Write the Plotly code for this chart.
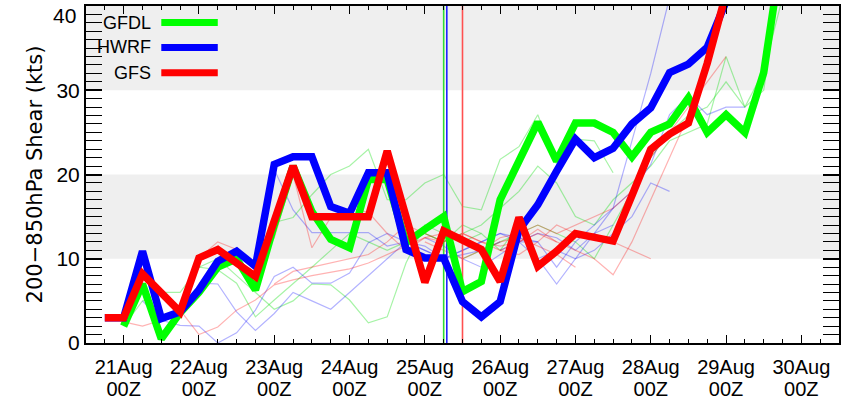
import pandas as pd
import plotly.graph_objects as go

# 6-hourly forecast times (2011-08-20 18Z onward)
T0 = pd.Timestamp("2011-08-20 18:00")
STEP = pd.Timedelta(hours=6)

def times(start, n):
    return [T0 + STEP * (start + k) for k in range(n)]

# Latest forecasts (start index, values in kts)
gfs_start = 0
gfs_shear = [3.0, 3.0, 8.2, 6.0, 3.7, 10.1, 11.1, 9.5, 7.9, 14.5, 21.0, 15.0, 15.0, 15.0,
             15.0, 22.8, 15.0, 7.2, 13.3, 12.3, 11.1, 7.3, 14.9, 9.1, 10.9, 13.0, 12.5,
             12.1, 17.5, 23.0, 24.8, 26.1, 33.2, 41.5]
hwrf_start = 0
hwrf_shear = [3.0, 3.0, 10.9, 2.9, 3.7, 6.3, 9.7, 10.9, 9.1, 21.2, 22.1, 22.1, 16.2, 15.4,
              20.2, 20.2, 11.1, 10.1, 10.1, 4.9, 3.1, 4.9, 13.4, 16.4, 20.4, 24.2, 22.0,
              23.1, 26.0, 27.9, 32.1, 33.1, 35.1, 40.5, 46.0]
gfdl_start = 1
gfdl_shear = [2.0, 7.0, 0.5, 3.6, 6.0, 9.0, 10.0, 6.3, 14.0, 21.0, 15.6, 12.3, 11.3, 19.4,
              19.4, 11.9, 13.5, 15.0, 6.1, 7.3, 17.0, 21.4, 26.2, 21.6, 26.1, 26.1, 25.0,
              22.1, 25.0, 26.0, 29.1, 25.0, 27.1, 25.0, 32.1, 47.0]

# Earlier forecast cycles (start index, values)
gfs_old = [
    (1, [2.5, 2.0, 2.7, 3.9, 1.0, 1.9, 3.9, 5.1, 6.9, 7.5, 8.0, 8.4, 8.8, 9.5, 10.5, 11.5,
         12.5, 13.0, 12.0, 11.0]),
    (5, [10.1, 12.0, 11.1, 9.3, 12.5, 20.0, 11.3, 14.9, 16.0, 15.5, 13.0, 11.0, 12.5, 12.0,
         13.0, 12.0, 11.5, 12.0, 13.5, 12.0]),
    (9, [7.0, 8.5, 9.0, 9.5, 10.0, 10.5, 12.0, 14.0, 13.0, 12.0, 13.0, 12.0, 11.0, 10.5,
         12.0, 14.0, 13.0, 13.0, 12.0, 11.0, 10.0]),
    (17, [12.0, 11.0, 10.0, 11.0, 12.5, 13.0, 14.0, 13.0, 14.0, 15.0, 16.0, 18.0, 22.0,
          25.0, 28.0, 31.0, 34.0]),
    (20, [11.0, 12.0, 12.5, 11.5, 10.5, 9.0]),
    (21, [11.0, 12.0, 13.0, 12.0, 11.0, 10.0, 8.1, 12.0, 17.0, 22.0, 27.0, 33.0, 40.0, 47.0]),
]
hwrf_old = [
    (2, [5.0, 2.7, 2.1, 2.0, 0.0, 1.2, 3.9, 7.9, 9.0, 7.1, 7.1, 8.3, 11.9, 13.0, 12.0, 11.0,
         10.0, 10.5, 11.0, 12.0]),
    (5, [7.1, 7.0, 3.7, 1.5, 3.5, 6.0, 5.0, 4.0, 6.0, 8.0, 10.0, 12.0, 11.5, 10.0, 11.0,
         12.0, 13.0, 12.5, 12.0]),
    (9, [20.6, 15.8, 13.1, 13.1, 13.1, 13.1, 11.5, 12.0, 11.0, 10.0, 11.0, 12.0, 13.0, 12.0,
         13.0, 12.5, 11.0, 13.0, 14.0]),
    (17, [12.5, 11.5, 10.0, 9.0, 10.5, 12.0, 10.0, 7.0, 10.0, 11.0, 13.0, 15.0, 19.0, 18.0]),
    (21, [11.0, 12.0, 12.0, 9.0, 12.0, 14.0, 16.0, 18.0, 21.2, 27.1, 29.3, 27.1, 28.0, 28.0]),
    (23, [10.0, 11.0, 10.0, 13.0, 16.0, 24.0, 32.0, 41.0, 50.0]),
]
gfdl_old = [
    (1, [2.0, 5.0, 6.0, 6.0, 9.0, 8.7, 7.1, 3.1, 5.1, 7.0, 9.0, 11.0, 13.0, 12.0, 11.0, 12.0,
         13.0, 12.0, 14.0, 13.0]),
    (5, [9.0, 10.0, 8.0, 6.0, 4.0, 5.0, 7.0, 6.9, 5.1, 2.4, 3.1, 9.5, 14.0, 13.0, 12.0, 13.0,
         11.0, 14.0]),
    (9, [14.3, 14.9, 17.6, 20.0, 21.0, 23.0, 17.0, 17.0, 19.0, 20.0, 16.2, 15.8, 21.8, 23.3,
         27.1, 21.2, 24.2, 24.0, 20.2]),
    (17, [13.0, 12.0, 13.0, 14.0, 16.0, 18.0, 21.0, 19.0, 15.0, 14.0, 17.0, 19.0, 21.0,
          24.0, 25.0, 26.0, 34.0, 28.0, 32.3, 41.0]),
    (19, [10.0, 11.0, 12.0, 13.0, 14.0, 13.0, 12.0, 10.0, 14.0, 18.0, 22.0, 25.0, 27.0,
          28.0, 31.0, 28.0, 30.0, 45.0]),
]

# Analysis time of each model's latest cycle
analysis_time = {
    "GFDL": pd.Timestamp("2011-08-25 06:00"),
    "HWRF": pd.Timestamp("2011-08-25 07:00"),
    "GFS": pd.Timestamp("2011-08-25 12:00"),
}

models = ["GFDL", "HWRF", "GFS"]
colors = {"GFDL": "#00ff00", "HWRF": "#0000ff", "GFS": "#ff0000"}
marker_colors = {"GFDL": "#33dd33", "HWRF": "#2222ff", "GFS": "#ff5050"}
faint = {"GFDL": "rgba(0,220,0,0.35)", "HWRF": "rgba(0,0,255,0.30)",
         "GFS": "rgba(255,0,0,0.30)"}
old_runs = {"GFDL": gfdl_old, "HWRF": hwrf_old, "GFS": gfs_old}
latest = {"GFDL": (gfdl_start, gfdl_shear), "HWRF": (hwrf_start, hwrf_shear),
          "GFS": (gfs_start, gfs_shear)}

y_ticks = [0, 10, 20, 30, 40]
y_ticktext = ["0", "10", "20", "30", ""]   # top label is set just inside the page edge
x_range = ["2011-08-20 12:00", "2011-08-30 12:00"]

FONT = "Liberation Sans, Arial, sans-serif"

fig = go.Figure()

# faint earlier cycles
for m in models:
    for start, vals in old_runs[m]:
        fig.add_trace(go.Scatter(x=times(start, len(vals)), y=vals, mode="lines",
                                 line=dict(color=faint[m], width=1.2),
                                 showlegend=False, hoverinfo="skip"))

# analysis-time markers
for m in models:
    t = analysis_time[m]
    fig.add_trace(go.Scatter(x=[t, t], y=[0, 40], mode="lines",
                             line=dict(color=marker_colors[m], width=1.6),
                             showlegend=False, hoverinfo="skip"))

# latest cycles, drawn thick
for m in models:
    start, vals = latest[m]
    fig.add_trace(go.Scatter(x=times(start, len(vals)), y=vals, mode="lines",
                             line=dict(color=colors[m], width=7.5),
                             showlegend=False, hoverinfo="skip"))

# hour row of the time axis (shares the date axis range)
fig.add_trace(go.Scatter(x=x_range, y=[None, None], xaxis="x2", mode="lines",
                         showlegend=False, hoverinfo="skip"))

# shaded shear bands
shapes = []
for lo, hi in [(10, 20), (30, 40)]:
    shapes.append(dict(type="rect", xref="paper", yref="y", x0=0, x1=1, y0=lo, y1=hi,
                       fillcolor="#efefef", line=dict(width=0), layer="below"))

# legend: label on the left, line sample on the right
annotations = []
leg_y = [0.951, 0.877, 0.802]
for m, yy in zip(models, leg_y):
    annotations.append(dict(text=m, xref="paper", yref="paper", x=0.0885, y=yy,
                            xanchor="right", yanchor="middle", showarrow=False,
                            font=dict(family=FONT, size=18, color="black")))
    shapes.append(dict(type="line", xref="paper", yref="paper", x0=0.1, x1=0.175,
                       y0=yy, y1=yy, line=dict(color=colors[m], width=7)))

# top y label, nudged down so it stays on the page
annotations.append(dict(text=str(y_ticks[-1]), xref="paper", yref="paper",
                        x=-0.0105, y=0.972, xanchor="right", yanchor="middle",
                        showarrow=False, font=dict(family=FONT, size=21, color="black")))

fig.update_layout(
    width=844, height=401,
    margin=dict(l=86, r=5, t=6, b=58, autoexpand=False),
    paper_bgcolor="white", plot_bgcolor="white",
    font=dict(family=FONT, size=21, color="black"),
    shapes=shapes, annotations=annotations,
    showlegend=False,
    xaxis=dict(
        type="date", range=x_range, automargin=False,
        tick0="2011-08-21", dtick=86400000, tickformat="%d%b",
        tickfont=dict(size=20),
        ticks="inside", ticklen=8, tickwidth=1.2, tickcolor="black",
        minor=dict(dtick=21600000, ticks="inside", ticklen=4, tickwidth=1.2,
                   tickcolor="black"),
        showline=True, linecolor="black", linewidth=2, mirror="allticks",
        showgrid=False, zeroline=False, layer="above traces",
        ticklabelstandoff=5,
    ),
    xaxis2=dict(
        type="date", range=x_range, overlaying="x", side="bottom", anchor="y",
        automargin=False,
        tick0="2011-08-21", dtick=86400000, tickformat="%HZ",
        tickfont=dict(size=20),
        ticks="", showline=False, showgrid=False, zeroline=False,
        ticklabelstandoff=32,
    ),
    yaxis=dict(
        range=[0, 40], tickvals=y_ticks, ticktext=y_ticktext, automargin=False,
        ticks="inside", ticklen=16, tickwidth=1.5, tickcolor="black",
        minor=dict(dtick=1, ticks="inside", ticklen=9, tickwidth=1.2, tickcolor="black"),
        showline=True, linecolor="black", linewidth=2, mirror="allticks",
        showgrid=False, zeroline=False, layer="above traces",
        title=dict(text="200\u2212850hPa Shear (kts)",
                   font=dict(family="DejaVu Sans", size=21), standoff=8),
    ),
)

fig.write_html("out.html", config={"displayModeBar": False})
